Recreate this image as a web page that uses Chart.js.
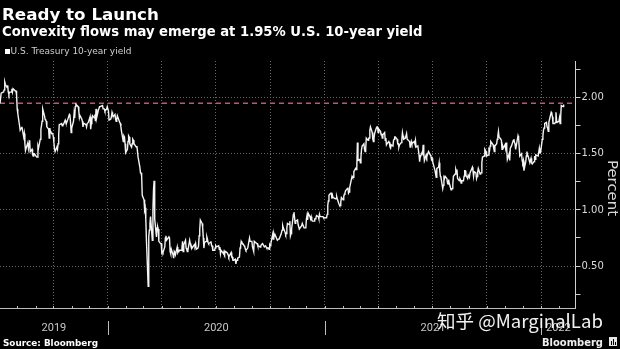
<!DOCTYPE html>
<html>
<head>
<meta charset="utf-8">
<script src="https://cdn.jsdelivr.net/npm/chart.js@4.4.1/dist/chart.umd.min.js"></script>
<style>
    html, body { margin: 0; padding: 0; background: #000; }
    canvas { display: block; }
</style>
</head>
<body>
<canvas id="yieldChart" width="620" height="349"></canvas>
<script>
const TITLE = 'Ready to Launch';
const SUBTITLE = 'Convexity flows may emerge at 1.95% U.S. 10-year yield';
const SERIES_LABEL = 'U.S. Treasury 10-year yield';
const SOURCE = 'Source: Bloomberg';
const BRAND = 'Bloomberg';
const AXIS_TITLE = 'Percent';
const WATERMARK = '知乎 @MarginalLab';

// Daily closes, one row per Mon-Fri week starting on firstWeek (null = market closed)
const firstWeek = '2019-07-01';
const yieldWeeks = [
    // 2019 Jul
    [2.03, 1.98, 1.95, null, 2.04],
    [2.05, 2.05, 2.07, 2.14, 2.12],
    [2.09, 2.11, 2.05, 2.03, 2.05],
    [2.05, 2.08, 2.05, 2.08, 2.08],
    [2.06, 2.06, 2.02, 1.90, 1.86],
    // Aug
    [1.75, 1.71, 1.71, 1.73, 1.74],
    [1.65, 1.68, 1.59, 1.53, 1.55],
    [1.60, 1.55, 1.59, 1.62, 1.52],
    [1.54, 1.49, 1.48, 1.50, 1.50],
    // Sep
    [null, 1.47, 1.47, 1.57, 1.55],
    [1.63, 1.72, 1.75, 1.79, 1.90],
    [1.84, 1.81, 1.80, 1.79, 1.74],
    [1.72, 1.64, 1.73, 1.70, 1.69],
    [1.68, 1.65, 1.60, 1.54, 1.52],
    // Oct
    [1.56, 1.54, 1.59, 1.67, 1.76],
    [null, 1.77, 1.75, 1.76, 1.76],
    [1.80, 1.78, 1.77, 1.77, 1.80],
    [1.85, 1.84, 1.78, 1.69, 1.73],
    // Nov
    [1.79, 1.86, 1.82, 1.92, 1.94],
    [null, 1.92, 1.88, 1.82, 1.84],
    [1.81, 1.79, 1.74, 1.77, 1.77],
    [1.76, 1.74, 1.77, null, 1.78],
    // Dec
    [1.83, 1.72, 1.77, 1.80, 1.84],
    [1.82, 1.85, 1.79, 1.90, 1.82],
    [1.89, 1.89, 1.92, 1.92, 1.92],
    [1.93, 1.90, null, 1.90, 1.88],
    [1.90, 1.92, null, 1.88, 1.80],
    // 2020 Jan
    [1.81, 1.83, 1.87, 1.85, 1.83],
    [1.85, 1.81, 1.79, 1.81, 1.84],
    [null, 1.78, 1.77, 1.74, 1.70],
    [1.61, 1.66, 1.65, 1.59, 1.51],
    // Feb
    [1.54, 1.61, 1.66, 1.65, 1.59],
    [1.56, 1.59, 1.63, 1.62, 1.59],
    [null, 1.56, 1.57, 1.52, 1.47],
    [1.38, 1.33, 1.33, 1.30, 1.13],
    // Mar
    [1.09, 1.00, 1.02, 0.92, 0.74],
    [0.32, 0.76, 0.82, 0.88, 0.94],
    [0.73, 1.00, 1.18, 1.26, 0.92],
    [0.76, 0.84, 0.85, 0.83, 0.72],
    [0.70, 0.70, 0.62, 0.63, 0.62],
    // Apr
    [0.67, 0.75, 0.77, 0.73, null],
    [0.76, 0.75, 0.63, 0.61, 0.65],
    [0.60, 0.57, 0.63, 0.62, 0.60],
    [0.67, 0.62, 0.63, 0.64, 0.64],
    // May
    [0.64, 0.66, 0.72, 0.63, 0.69],
    [0.73, 0.66, 0.65, 0.63, 0.64],
    [0.73, 0.70, 0.68, 0.68, 0.66],
    [null, 0.69, 0.68, 0.70, 0.65],
    // Jun
    [0.66, 0.68, 0.77, 0.82, 0.91],
    [0.88, 0.84, 0.75, 0.66, 0.71],
    [0.72, 0.76, 0.74, 0.71, 0.70],
    [0.71, 0.72, 0.68, 0.68, 0.64],
    [0.64, 0.66, 0.68, 0.67, null],
    // Jul
    [0.68, 0.65, 0.67, 0.61, 0.64],
    [0.62, 0.61, 0.63, 0.61, 0.63],
    [0.62, 0.61, 0.60, 0.58, 0.59],
    [0.62, 0.58, 0.58, 0.55, 0.55],
    // Aug
    [0.56, 0.52, 0.55, 0.55, 0.57],
    [0.58, 0.66, 0.68, 0.72, 0.71],
    [0.69, 0.68, 0.67, 0.65, 0.64],
    [0.66, 0.69, 0.69, 0.75, 0.72],
    [0.72, 0.67, 0.65, 0.63, 0.72],
    // Sep
    [null, 0.70, 0.70, 0.68, 0.68],
    [0.67, 0.68, 0.69, 0.69, 0.70],
    [0.67, 0.67, 0.68, 0.67, 0.66],
    [0.66, 0.65, 0.69, 0.68, 0.70],
    // Oct
    [0.78, 0.74, 0.79, 0.77, 0.78],
    [null, 0.73, 0.73, 0.74, 0.74],
    [0.78, 0.80, 0.82, 0.86, 0.84],
    [0.80, 0.78, 0.79, 0.84, 0.88],
    // Nov
    [0.87, 0.90, 0.77, 0.79, 0.83],
    [0.96, 0.98, null, 0.88, 0.90],
    [0.91, 0.87, 0.87, 0.83, 0.83],
    [0.86, 0.88, 0.88, null, 0.84],
    [0.84, 0.92, 0.95, 0.91, 0.97],
    // Dec
    [0.94, 0.92, 0.94, 0.91, 0.90],
    [0.90, 0.92, 0.92, 0.93, 0.95],
    [0.94, 0.92, 0.96, 0.94, null],
    [0.94, 0.94, 0.93, 0.93, null],
    // 2021 Jan
    [0.93, 0.96, 1.04, 1.08, 1.13],
    [1.15, 1.15, 1.10, 1.13, 1.11],
    [null, 1.10, 1.10, 1.12, 1.10],
    [1.05, 1.04, 1.04, 1.07, 1.11],
    // Feb
    [1.09, 1.12, 1.14, 1.15, 1.17],
    [1.19, 1.20, 1.15, 1.16, 1.20],
    [null, 1.30, 1.29, 1.29, 1.34],
    [1.37, 1.36, 1.38, 1.60, 1.44],
    // Mar
    [1.45, 1.42, 1.47, 1.54, 1.57],
    [1.59, 1.54, 1.52, 1.54, 1.64],
    [1.62, 1.64, 1.64, 1.71, 1.74],
    [1.69, 1.63, 1.61, 1.64, 1.68],
    [1.73, 1.74, 1.74, 1.69, 1.72],
    // Apr
    [1.70, 1.67, 1.68, 1.64, 1.67],
    [1.69, 1.62, 1.64, 1.58, 1.59],
    [1.61, 1.60, 1.56, 1.55, 1.58],
    [1.57, 1.62, 1.63, 1.65, 1.65],
    // May
    [1.63, 1.59, 1.59, 1.56, 1.58],
    [1.60, 1.63, 1.69, 1.66, 1.63],
    [1.64, 1.64, 1.68, 1.63, 1.63],
    [1.61, 1.56, 1.58, 1.61, 1.59],
    [null, 1.61, 1.59, 1.62, 1.56],
    // Jun
    [1.57, 1.53, 1.49, 1.43, 1.47],
    [1.51, 1.50, 1.58, 1.51, 1.44],
    [1.49, 1.47, 1.49, 1.49, 1.52],
    [1.49, 1.48, 1.45, 1.46, 1.43],
    // Jul
    [null, 1.35, 1.32, 1.29, 1.37],
    [1.38, 1.42, 1.35, 1.30, 1.29],
    [1.19, 1.22, 1.29, 1.28, 1.30],
    [1.28, 1.24, 1.23, 1.27, 1.24],
    // Aug
    [1.18, 1.19, 1.19, 1.23, 1.30],
    [1.32, 1.36, 1.34, 1.36, 1.28],
    [1.26, 1.28, 1.27, 1.24, 1.26],
    [1.26, 1.30, 1.35, 1.35, 1.31],
    [1.28, 1.31, 1.30, 1.29, 1.33],
    // Sep
    [null, 1.38, 1.35, 1.30, 1.34],
    [1.33, 1.28, 1.30, 1.34, 1.37],
    [1.32, 1.33, 1.33, 1.42, 1.47],
    [1.48, 1.54, 1.53, 1.52, 1.48],
    // Oct
    [1.49, 1.54, 1.53, 1.57, 1.61],
    [null, 1.58, 1.55, 1.52, 1.57],
    [1.59, 1.63, 1.66, 1.70, 1.65],
    [1.63, 1.62, 1.54, 1.57, 1.55],
    // Nov
    [1.58, 1.55, 1.60, 1.53, 1.45],
    [1.50, 1.44, 1.55, null, 1.57],
    [1.62, 1.63, 1.60, 1.59, 1.54],
    [1.63, 1.66, 1.64, null, 1.48],
    [1.50, 1.44, 1.42, 1.44, 1.35],
    // Dec
    [1.43, 1.48, 1.52, 1.49, 1.48],
    [1.42, 1.44, 1.46, 1.42, 1.41],
    [1.43, 1.48, 1.45, 1.49, null],
    [1.48, 1.48, 1.55, 1.51, 1.51],
    // 2022 Jan
    [1.63, 1.66, 1.71, 1.73, 1.77],
    [1.78, 1.74, 1.73, 1.70, 1.78],
    [null, 1.87, 1.86, 1.83, 1.77],
    [1.77, 1.78, 1.87, 1.80, 1.78],
    [1.79, 1.82, 1.77, 1.83, 1.93],
    // Feb
    [1.92, 1.94]
];

const convexityLevel = 1.95;
const axisStart = '2019-07-03';
const axisEnd = '2022-02-28';
const yMin = 0.126;
const yMax = 2.327;
const years = [2019, 2020, 2021, 2022];

const DAY_MS = 86400000;
function toDay(str) {
    return Date.parse(str + 'T00:00:00Z') / DAY_MS;
}
function dayOf(year, month) {
    return Date.UTC(year, month, 1) / DAY_MS;
}

const xMin = toDay(axisStart);
const xMax = toDay(axisEnd);

// turn the weekly rows into {x: day, y: value} points
const startDay = toDay(firstWeek);
const yieldPoints = [];
yieldWeeks.forEach((week, w) => {
    week.forEach((v, d) => {
        if (v !== null) yieldPoints.push({ x: startDay + w * 7 + d, y: v });
    });
});

// quarter starts get grid lines, month starts get small ticks on the base line
const quarterDays = [];
const monthDays = [];
years.forEach(y => {
    for (let m = 0; m < 12; m++) {
        const d = dayOf(y, m);
        if (d <= xMin || d >= xMax) continue;
        monthDays.push(d);
        if (m % 3 === 0) quarterDays.push(d);
    }
});

function isMajor(v) {
    return Math.abs(v * 2 - Math.round(v * 2)) < 1e-6;
}

function fitFont(ctx, text, weight, family, width) {
    ctx.font = `${weight} 100px "${family}"`;
    const size = 100 * width / ctx.measureText(text).width;
    return `${weight} ${size.toFixed(2)}px "${family}"`;
}

const backdrop = {
    id: 'backdrop',
    beforeDraw(chart) {
        const ctx = chart.ctx;
        ctx.save();
        ctx.fillStyle = '#000';
        ctx.fillRect(0, 0, chart.width, chart.height);
        ctx.restore();
    }
};

const decorations = {
    id: 'decorations',
    afterDraw(chart) {
        const ctx = chart.ctx;
        const area = chart.chartArea;
        const xs = chart.scales.x;
        ctx.save();

        // headline and subtitle
        ctx.fillStyle = '#fff';
        ctx.textBaseline = 'alphabetic';
        ctx.textAlign = 'left';
        ctx.font = fitFont(ctx, TITLE, 'bold', 'DejaVu Sans', 157);
        ctx.fillText(TITLE, 2, 19.5);
        ctx.font = fitFont(ctx, SUBTITLE, 'bold', 'DejaVu Sans', 421);
        ctx.fillText(SUBTITLE, 2, 35.5);

        // legend
        ctx.fillRect(5, 49, 5, 5);
        ctx.fillStyle = '#cfcfcf';
        ctx.textBaseline = 'middle';
        ctx.font = fitFont(ctx, SERIES_LABEL, 'normal', 'DejaVu Sans', 121);
        ctx.fillText(SERIES_LABEL, 10.5, 52);

        // base line with month ticks
        ctx.strokeStyle = '#bdbdbd';
        ctx.lineWidth = 1;
        ctx.beginPath();
        ctx.moveTo(area.left, area.bottom + 0.5);
        ctx.lineTo(area.right, area.bottom + 0.5);
        monthDays.forEach(d => {
            const px = Math.round(xs.getPixelForValue(d)) + 0.5;
            ctx.moveTo(px, area.bottom - 2);
            ctx.lineTo(px, area.bottom + 0.5);
        });
        ctx.stroke();

        // year separators and year labels
        ctx.beginPath();
        years.forEach(y => {
            const d = dayOf(y, 0);
            if (d <= xMin || d >= xMax) return;
            const px = Math.round(xs.getPixelForValue(d)) + 0.5;
            ctx.moveTo(px, 321);
            ctx.lineTo(px, 335);
        });
        ctx.stroke();

        ctx.fillStyle = '#c8c8c8';
        ctx.font = '11px Roboto';
        ctx.textAlign = 'center';
        ctx.textBaseline = 'middle';
        years.forEach(y => {
            const a = Math.max(dayOf(y, 0), xMin);
            const b = Math.min(dayOf(y + 1, 0), xMax);
            if (b <= a) return;
            ctx.fillText(String(y), xs.getPixelForValue((a + b) / 2), 328);
        });

        // right axis title
        ctx.save();
        ctx.translate(612, 188);
        ctx.rotate(Math.PI / 2);
        ctx.fillStyle = '#d8d8d8';
        ctx.font = fitFont(ctx, AXIS_TITLE, 'normal', 'DejaVu Sans', 56);
        ctx.fillText(AXIS_TITLE, 0, 0);
        ctx.restore();

        // footer
        ctx.textAlign = 'left';
        ctx.textBaseline = 'alphabetic';
        ctx.fillStyle = '#fff';
        ctx.font = fitFont(ctx, SOURCE, 'bold', 'DejaVu Sans', 95);
        ctx.fillText(SOURCE, 3, 345.5);
        ctx.fillStyle = '#eee';
        ctx.font = fitFont(ctx, BRAND, 'bold', 'DejaVu Sans', 61);
        ctx.fillText(BRAND, 542, 345.5);

        // small brand badge
        ctx.fillStyle = '#e6e6e6';
        ctx.fillRect(609, 337, 8, 9);
        ctx.fillStyle = '#000';
        ctx.fillRect(611, 341, 1, 4);
        ctx.fillRect(613, 339, 1, 6);
        ctx.fillRect(615, 342, 1, 3);

        // overlay credit
        ctx.fillStyle = 'rgba(255,255,255,0.95)';
        ctx.font = fitFont(ctx, WATERMARK, 'normal', 'Noto Sans CJK SC', 166);
        ctx.fillText(WATERMARK, 437, 327.5);

        ctx.restore();
    }
};

new Chart(document.getElementById('yieldChart'), {
    type: 'line',
    data: {
        datasets: [
            {
                label: SERIES_LABEL,
                data: yieldPoints,
                borderColor: '#f4f4f4',
                borderWidth: 1.4,
                pointRadius: 0,
                tension: 0,
                order: 1
            },
            {
                label: 'Convexity level',
                data: [{ x: xMin, y: convexityLevel }, { x: xMax, y: convexityLevel }],
                borderColor: '#c0566f',
                borderWidth: 1.6,
                borderDash: [5, 4],
                pointRadius: 0,
                order: 2
            }
        ]
    },
    options: {
        responsive: false,
        animation: false,
        devicePixelRatio: 1,
        layout: { padding: { top: 61, bottom: 41, left: 0, right: 0 } },
        scales: {
            x: {
                type: 'linear',
                min: xMin,
                max: xMax,
                afterBuildTicks: scale => {
                    scale.ticks = quarterDays.map(v => ({ value: v }));
                },
                afterFit: scale => {
                    scale.height = 0;
                },
                ticks: { display: false, autoSkip: false },
                grid: { color: '#666', lineWidth: 1, drawTicks: false },
                border: { display: false, dash: [1, 2] }
            },
            y: {
                position: 'right',
                min: yMin,
                max: yMax,
                afterFit: scale => {
                    scale.width = 44.5;
                },
                ticks: {
                    stepSize: 0.25,
                    includeBounds: false,
                    autoSkip: false,
                    padding: 1,
                    color: '#dcdcdc',
                    font: { family: 'DejaVu Sans', size: 10 },
                    callback: v => (isMajor(v) ? v.toFixed(2) : '')
                },
                grid: {
                    color: c => (c.tick && isMajor(c.tick.value) ? '#666' : 'rgba(0,0,0,0)'),
                    tickColor: '#cfcfcf',
                    tickLength: 5,
                    lineWidth: 1
                },
                border: { display: true, color: '#cfcfcf', width: 1, dash: [1, 2] }
            }
        },
        plugins: {
            legend: { display: false },
            tooltip: { enabled: false }
        }
    },
    plugins: [backdrop, decorations]
});
</script>
</body>
</html>
